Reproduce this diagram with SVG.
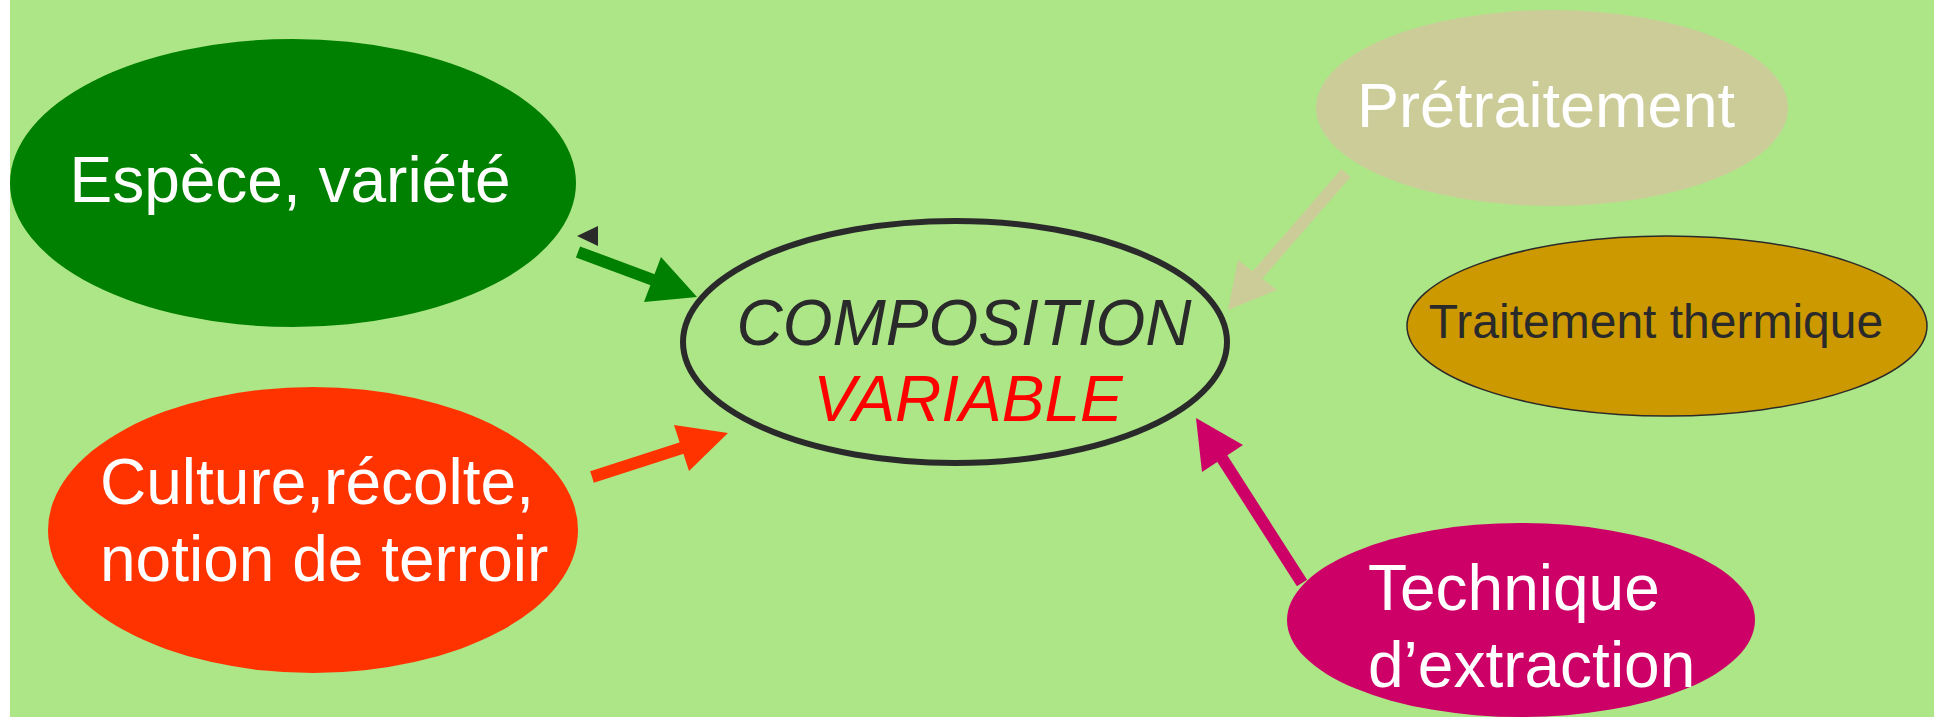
<svg xmlns="http://www.w3.org/2000/svg" width="1934" height="717" viewBox="0 0 1934 717">
<style>
.t{font-family:"Liberation Sans",Arial,sans-serif;font-size:64px;fill:#ffffff}
.it{font-style:italic}
.sh{stroke-width:12;stroke-linecap:butt;fill:none}
</style>
<rect x="0" y="0" width="1934" height="717" fill="#ffffff"/>
<rect x="10" y="0" width="1924" height="717" fill="#ade687"/>
<g id="connectors">
  <line class="sh" x1="578" y1="252" x2="656" y2="281" stroke="#008000"/>
  <polygon points="697,297 661,257 644,302" fill="#008000"/>
  <line class="sh" x1="592" y1="477" x2="685" y2="447" stroke="#ff3300"/>
  <polygon points="728,433 674,425 689,471" fill="#ff3300"/>
  <line class="sh" x1="1302" y1="583" x2="1220" y2="455" stroke="#cc0066" stroke-width="11"/>
  <polygon points="1196,418 1202,472 1243,445" fill="#cc0066"/>
  <line class="sh" x1="1346" y1="173" x2="1254" y2="279" stroke="#cccc99"/>
  <polygon points="1228,310 1238,260 1277,290" fill="#cccc99"/>
  <polygon points="577,236 598,226 598,246" fill="#2a2a2a"/>
</g>
<g id="espece">
  <ellipse cx="293" cy="183" rx="283" ry="144" fill="#008000"/>
  <text class="t" x="290" y="202" text-anchor="middle">Espèce, variété</text>
</g>
<g id="culture">
  <ellipse cx="313" cy="530" rx="265" ry="143" fill="#ff3300"/>
  <text class="t" x="100" y="504">Culture,récolte,</text>
  <text class="t" x="100" y="581">notion de terroir</text>
</g>
<g id="composition">
  <ellipse cx="955" cy="342" rx="272" ry="121" fill="none" stroke="#2a2a2a" stroke-width="6"/>
  <text class="t it" x="964" y="345" text-anchor="middle" style="fill:#2a2a2a">COMPOSITION</text>
  <text class="t it" x="968" y="421" text-anchor="middle" style="fill:#ff0000">VARIABLE</text>
</g>
<g id="pretraitement">
  <ellipse cx="1552" cy="108" rx="236" ry="98" fill="#cccc99"/>
  <text class="t" x="1546" y="127" text-anchor="middle" style="font-size:63px">Prétraitement</text>
</g>
<g id="thermique">
  <ellipse cx="1667" cy="326" rx="260" ry="90" fill="#cc9900" stroke="#2a2a2a" stroke-width="1.5"/>
  <text class="t" x="1656" y="338" text-anchor="middle" style="font-size:48px;fill:#2a2a2a">Traitement thermique</text>
</g>
<g id="technique">
  <ellipse cx="1521" cy="620" rx="234" ry="97" fill="#cc0066"/>
  <text class="t" x="1368" y="610">Technique</text>
  <text class="t" x="1368" y="687">d’extraction</text>
</g>
</svg>
